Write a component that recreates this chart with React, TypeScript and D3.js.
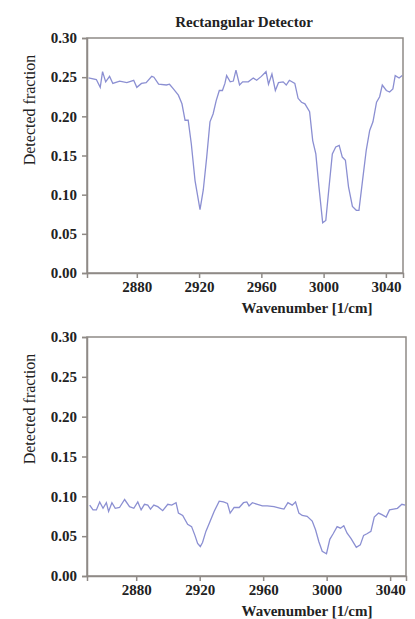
import React, { useEffect, useRef } from "react";
import * as d3 from "d3";

// wavenumber / detected fraction
const topWave = [2849, 2854, 2856.5, 2858, 2860, 2862.5, 2864.6, 2869, 2873.6, 2878, 2880, 2883, 2886, 2889.6, 2891, 2894, 2899, 2901, 2903.5, 2906.7, 2909, 2911, 2913, 2915, 2917.4, 2920.6, 2922.7, 2924.9, 2927, 2929, 2931, 2933, 2935, 2936.6, 2937.7, 2940, 2942, 2943.7, 2946, 2948, 2951.6, 2954.8, 2957, 2960, 2963, 2964.6, 2966.8, 2969, 2971, 2974, 2976, 2978, 2981.5, 2983.6, 2985.8, 2988, 2991, 2993, 2995, 2997, 2999.4, 3001.4, 3003.5, 3005.6, 3007.8, 3010, 3012, 3014, 3016, 3018.5, 3021, 3022.7, 3025, 3027.4, 3029.6, 3031.7, 3034, 3036, 3037.7, 3040.3, 3042.4, 3044.5, 3046, 3048.5, 3050.5];
const topValue = [0.249, 0.247, 0.237, 0.257, 0.244, 0.251, 0.242, 0.245, 0.243, 0.246, 0.237, 0.242, 0.243, 0.251, 0.25, 0.241, 0.24, 0.241, 0.235, 0.227, 0.216, 0.195, 0.195, 0.165, 0.118, 0.081, 0.106, 0.148, 0.193, 0.203, 0.22, 0.233, 0.233, 0.242, 0.252, 0.244, 0.245, 0.259, 0.24, 0.244, 0.244, 0.249, 0.246, 0.251, 0.257, 0.241, 0.254, 0.233, 0.243, 0.244, 0.24, 0.246, 0.242, 0.223, 0.218, 0.216, 0.206, 0.169, 0.152, 0.11, 0.064, 0.067, 0.11, 0.152, 0.161, 0.163, 0.148, 0.144, 0.11, 0.085, 0.08, 0.08, 0.118, 0.157, 0.182, 0.193, 0.218, 0.225, 0.24, 0.233, 0.231, 0.235, 0.252, 0.249, 0.252];

const bottomWave = [2850.7, 2852.8, 2854.9, 2857, 2859.1, 2861.2, 2862.6, 2864.7, 2866.8, 2869.5, 2872.7, 2875.8, 2878.5, 2881, 2883.1, 2885.2, 2887.3, 2889, 2891.1, 2893.6, 2896.7, 2899.9, 2902.4, 2905.1, 2906.6, 2909.3, 2912.4, 2914.9, 2917, 2918.7, 2920.4, 2921.8, 2923.9, 2926, 2929.1, 2932.3, 2935, 2937.5, 2939.2, 2941.7, 2944.9, 2947.6, 2949.7, 2951.1, 2953.2, 2956.4, 2959.5, 2962.6, 2966.8, 2971, 2973.1, 2975.6, 2978.3, 2980.4, 2982.5, 2984.6, 2987.7, 2990.9, 2993, 2995.1, 2997.2, 2999.9, 3002, 3004.1, 3006.6, 3008.7, 3010.8, 3012.8, 3015.4, 3018.7, 3021.2, 3023.3, 3025.4, 3027.9, 3030, 3032.7, 3034.8, 3037.5, 3039.6, 3042.1, 3044.6, 3047.4, 3049.5];
const bottomValue = [0.089, 0.083, 0.083, 0.093, 0.085, 0.092, 0.081, 0.092, 0.085, 0.086, 0.096, 0.087, 0.085, 0.093, 0.083, 0.09, 0.089, 0.084, 0.089, 0.087, 0.082, 0.09, 0.089, 0.092, 0.079, 0.076, 0.065, 0.062, 0.051, 0.041, 0.037, 0.042, 0.056, 0.066, 0.081, 0.094, 0.093, 0.091, 0.079, 0.086, 0.086, 0.092, 0.093, 0.088, 0.092, 0.09, 0.088, 0.088, 0.087, 0.085, 0.084, 0.092, 0.089, 0.093, 0.079, 0.076, 0.075, 0.069, 0.058, 0.043, 0.031, 0.028, 0.046, 0.053, 0.062, 0.06, 0.063, 0.054, 0.047, 0.036, 0.039, 0.051, 0.053, 0.056, 0.074, 0.079, 0.077, 0.074, 0.083, 0.084, 0.085, 0.09, 0.089];

const xTicks = [2880, 2920, 2960, 3000, 3040];
const yTicks = [0, 0.05, 0.1, 0.15, 0.2, 0.25, 0.3];

const FONT = "'Liberation Serif', 'Times New Roman', serif";
const AXIS = "#8f8a86";
const LINE = "#8b8fd2";

function drawPanel(svg, box, wave, value, title, xDomain) {
  const g = svg.append("g");
  const x = d3.scaleLinear().domain(xDomain).range([box.left, box.right]);
  const y = d3.scaleLinear().domain([0, 0.3]).range([box.bottom, box.top]);

  const line = d3
    .line()
    .x((d) => x(d[0]))
    .y((d) => y(d[1]));
  g.append("path")
    .datum(wave.map((w, i) => [w, value[i]]))
    .attr("d", line)
    .attr("fill", "none")
    .attr("stroke", LINE)
    .attr("stroke-width", 1.3);

  // frame
  g.append("rect")
    .attr("x", box.left)
    .attr("y", box.top)
    .attr("width", box.right - box.left)
    .attr("height", box.bottom - box.top)
    .attr("fill", "none")
    .attr("stroke", AXIS)
    .attr("stroke-width", 1.5);

  const xAxis = g
    .append("g")
    .attr("transform", `translate(0,${box.bottom})`)
    .call(d3.axisBottom(x).tickValues(xTicks).tickSize(5).tickPadding(3).tickFormat(d3.format("d")));
  const yAxis = g
    .append("g")
    .attr("transform", `translate(${box.left},0)`)
    .call(d3.axisLeft(y).tickValues(yTicks).tickSize(5).tickPadding(5).tickFormat(d3.format(".2f")));

  [xAxis, yAxis].forEach((a) => {
    a.select(".domain").attr("stroke", AXIS).attr("stroke-width", 1.5);
    a.selectAll(".tick line").attr("stroke", AXIS).attr("stroke-width", 1.5);
    a.selectAll(".tick text")
      .attr("fill", "#222")
      .style("font-family", FONT)
      .style("font-size", "15px")
      .style("font-weight", "bold");
  });

  if (title) {
    g.append("text")
      .attr("x", 244)
      .attr("y", box.top - 11)
      .attr("text-anchor", "middle")
      .style("font-family", FONT)
      .style("font-size", "15px")
      .style("font-weight", "bold")
      .attr("fill", "#222")
      .text(title);
  }

  g.append("text")
    .attr("x", 307)
    .attr("y", box.bottom + 40)
    .attr("text-anchor", "middle")
    .style("font-family", FONT)
    .style("font-size", "15px")
    .style("font-weight", "bold")
    .attr("fill", "#222")
    .text("Wavenumber [1/cm]");

  g.append("text")
    .attr("transform", `translate(35,${box.top + 72}) rotate(-90)`)
    .attr("text-anchor", "middle")
    .style("font-family", FONT)
    .style("font-size", "16px")
    .attr("fill", "#222")
    .text("Detected fraction");
}

export default function App() {
  const ref = useRef(null);
  useEffect(() => {
    const svg = d3.select(ref.current);
    svg.selectAll("*").remove();
    drawPanel(svg, { left: 87, right: 403, top: 38, bottom: 273 }, topWave, topValue, "Rectangular Detector", [2848, 3051]);
    drawPanel(svg, { left: 87, right: 406, top: 337, bottom: 576 }, bottomWave, bottomValue, null, [2849, 3050]);
  }, []);

  return (
    <div style={{ position: "absolute", left: 0, top: 0 }}>
      <svg ref={ref} width={415} height={619} style={{ display: "block", background: "#fff" }}></svg>
    </div>
  );
}
